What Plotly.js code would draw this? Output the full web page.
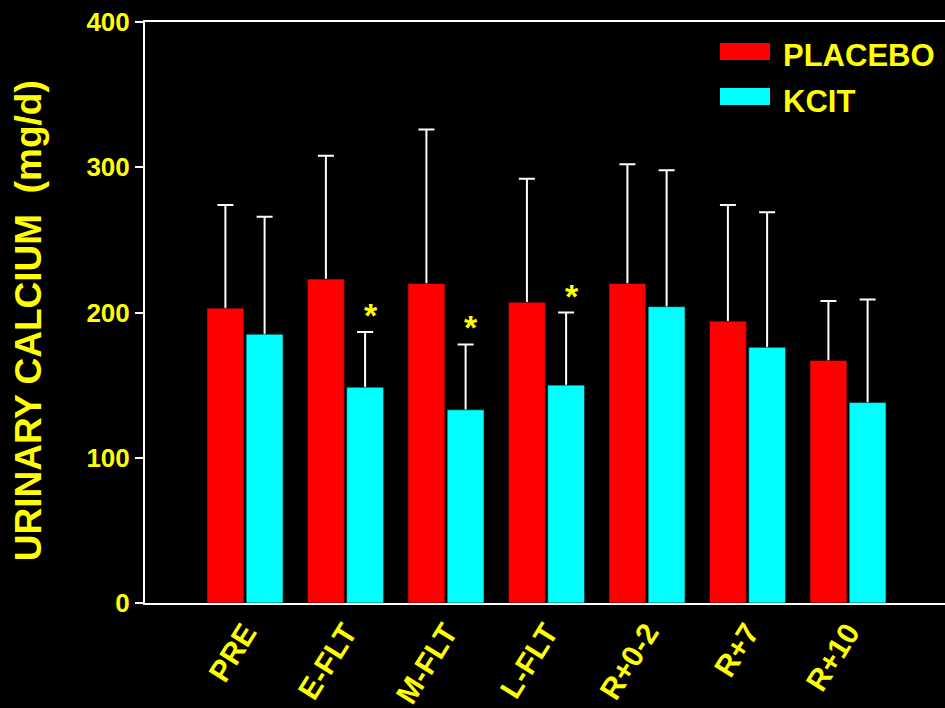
<!DOCTYPE html>
<html><head><meta charset="utf-8">
<script src="https://cdn.plot.ly/plotly-3.0.1.min.js"></script>
<style>html,body{margin:0;padding:0;background:#000;}</style>
</head><body><div id="chart" style="width:945px;height:708px;"></div>
<script>
const categories = ['PRE', 'E-FLT', 'M-FLT', 'L-FLT', 'R+0-2', 'R+7', 'R+10'];
const placeboMean = [203, 223, 220, 207, 220, 194, 167];
const placeboSD = [71, 85, 106, 85, 82, 80, 41];
const kcitMean = [185, 148.5, 133, 150, 204, 176, 138];
const kcitSD = [81, 38, 45, 50, 94, 93, 71];
const significant = ['E-FLT', 'M-FLT', 'L-FLT'];
const yTickVals = [0, 100, 200, 300, 400];
const seriesNames = ['PLACEBO', 'KCIT'];

const FONT = 'Arial, "Liberation Sans", sans-serif';
const YEL = '#FFFF00';
const RED = '#FF0000';
const CYAN = '#00FFFF';

function errTrace(name, mean, sd, color, group) {
  return {
    type: 'bar', name: name, x: categories, y: mean, offsetgroup: group,
    marker: {color: color, line: {color: 'rgba(0,0,0,0.55)', width: 1}},
    error_y: {type: 'data', symmetric: false, array: sd,
              arrayminus: mean.map(() => 4),
              color: '#FFFFFF', thickness: 2, width: 8},
    hoverinfo: 'skip', showlegend: false
  };
}
function barTrace(name, mean, color, group) {
  return {
    type: 'bar', name: name, x: categories, y: mean, offsetgroup: group,
    marker: {color: color, line: {color: 'rgba(0,0,0,0.55)', width: 1}},
    showlegend: false
  };
}

const data = [
  errTrace(seriesNames[0], placeboMean, placeboSD, RED, 'p'),
  errTrace(seriesNames[1], kcitMean, kcitSD, CYAN, 'k'),
  barTrace(seriesNames[0], placeboMean, RED, 'p'),
  barTrace(seriesNames[1], kcitMean, CYAN, 'k')
];

const annotations = significant.map(c => {
  const i = categories.indexOf(c);
  return {
    x: c, y: kcitMean[i] + kcitSD[i], xref: 'x', yref: 'y',
    text: '*', showarrow: false, xshift: 25, yshift: 17,
    xanchor: 'center', yanchor: 'middle',
    font: {family: FONT, size: 34, color: YEL, weight: 'bold'}
  };
});

annotations.push({
  text: 'URINARY CALCIUM  (mg/d)', xref: 'paper', yref: 'paper',
  x: -0.14625, y: 0.485, textangle: -90, showarrow: false,
  xanchor: 'center', yanchor: 'middle',
  font: {family: FONT, size: 37, color: YEL, weight: 'bold'}
});
annotations.push({
  text: seriesNames[0], xref: 'paper', yref: 'paper', x: 0.795, y: 0.9415,
  xanchor: 'left', yanchor: 'middle', showarrow: false,
  font: {family: FONT, size: 31, color: YEL, weight: 'bold'}
});
annotations.push({
  text: seriesNames[1], xref: 'paper', yref: 'paper', x: 0.795, y: 0.864,
  xanchor: 'left', yanchor: 'middle', showarrow: false,
  font: {family: FONT, size: 31, color: YEL, weight: 'bold'}
});

const shapes = [
  {type: 'rect', xref: 'paper', yref: 'paper', x0: 0.71875, x1: 0.78125, y0: 0.9346, y1: 0.9639,
   fillcolor: RED, line: {width: 0}},
  {type: 'rect', xref: 'paper', yref: 'paper', x0: 0.71875, x1: 0.78125, y0: 0.8571, y1: 0.8864,
   fillcolor: CYAN, line: {width: 0}}
];

const layout = {
  width: 945, height: 708,
  paper_bgcolor: '#000000', plot_bgcolor: '#000000',
  margin: {l: 145, r: 0, t: 22, b: 105, pad: 0},
  barmode: 'group', bargap: 0.22, bargroupgap: 0.06,
  showlegend: false,
  xaxis: {
    type: 'category', range: [-0.995, 6.965], fixedrange: true, automargin: false,
    showline: true, linecolor: '#FFFFFF', linewidth: 2, mirror: true,
    ticks: '', showgrid: false, zeroline: false,
    tickangle: -58, ticklabelstandoff: -2,
    tickfont: {family: FONT, size: 30, color: YEL, weight: 'bold'}
  },
  yaxis: {
    range: [0, 400], tickvals: yTickVals, fixedrange: true,
    showline: true, linecolor: '#FFFFFF', linewidth: 2,
    ticks: 'outside', ticklen: 8, tickwidth: 2, tickcolor: '#FFFFFF',
    showgrid: false, zeroline: false,
    tickfont: {family: FONT, size: 26, color: YEL, weight: 'bold'}
  },
  annotations: annotations,
  shapes: shapes
};

Plotly.newPlot('chart', data, layout, {displayModeBar: false, staticPlot: true});
</script></body></html>
